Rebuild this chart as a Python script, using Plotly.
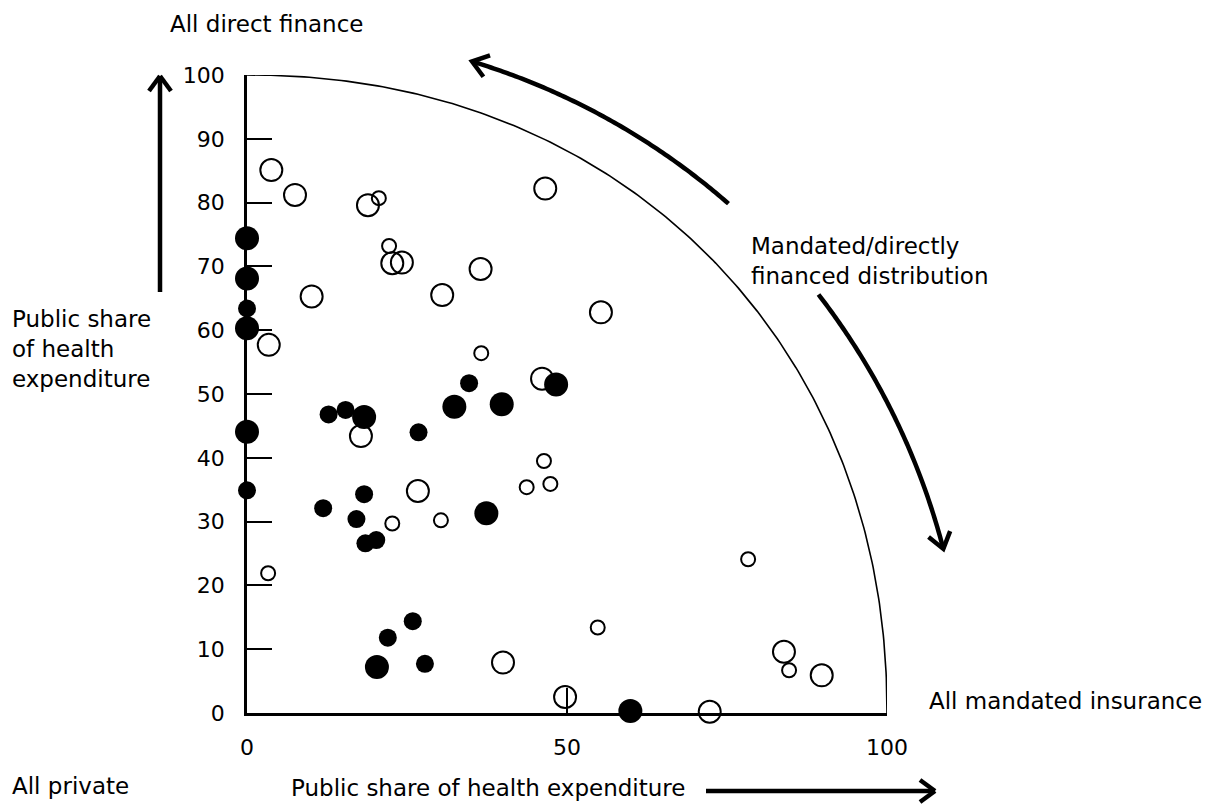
import numpy as np
import plotly.graph_objects as go

# ---------------- data ----------------
open_big_x = [3.8, 7.5, 18.9, 22.7, 24.2, 36.5, 10.1, 30.5, 46.6, 55.3, 3.4, 17.8, 46.1, 26.7, 40.0, 49.7, 72.3, 83.9, 89.8]
open_big_y = [85.1, 81.2, 79.6, 70.5, 70.6, 69.6, 65.3, 65.5, 82.2, 62.8, 57.7, 43.4, 52.4, 34.8, 7.9, 2.5, 0.2, 9.6, 5.9]

open_small_x = [20.6, 22.2, 36.6, 22.7, 30.3, 43.7, 46.4, 47.4, 3.3, 78.3, 54.8, 84.7]
open_small_y = [80.7, 73.2, 56.4, 29.7, 30.2, 35.4, 39.5, 35.9, 21.9, 24.1, 13.4, 6.7]

filled_big_x = [0, 0, 0, 0, 18.3, 32.4, 39.8, 48.3, 37.4, 20.3, 59.9]
filled_big_y = [74.4, 68.1, 60.3, 44.1, 46.4, 48.0, 48.4, 51.5, 31.3, 7.2, 0.3]

filled_small_x = [0, 0, 12.75, 15.4, 26.8, 34.7, 11.9, 18.3, 17.1, 18.5, 20.2, 22.0, 25.9, 27.8]
filled_small_y = [63.4, 34.9, 46.8, 47.5, 44.0, 51.7, 32.1, 34.3, 30.4, 26.6, 27.1, 11.8, 14.4, 7.7]

x_tickvals = [0, 50, 100]
x_ticktext = ["0", "50", "100"]
y_tickvals = [0, 10, 20, 30, 40, 50, 60, 70, 80, 90, 100]
y_ticktext = ["0", "10", "20", "30", "40", "50", "60", "70", "80", "90", "100"]

# boundary curve and curved arrows (radius / angle parameters, axis units)
boundary_radius = 100
boundary_power = 2.1
up_arrow_radii = (109.7, 108.0)     # start -> tip
up_arrow_angles = (46.7, 71.0)      # degrees, start -> tip
down_arrow_radii = (110.8, 111.8)
down_arrow_angles = (36.3, 13.3)

FONT = "DejaVu Sans"
TXT = 23

# ---------------- layout geometry ----------------
W, H = 1221, 809
L, R, T, B = 247, 334, 75, 96
PW, PH = W - L - R, H - T - B
XR = (0, 100)
YR = (0, 100)


def paper(xp, yp):
    """pixel -> paper coordinates"""
    return (xp - L) / PW, (H - B - yp) / PH


def d2p(x, y):
    """axis units -> paper coordinates"""
    return (x - XR[0]) / (XR[1] - XR[0]), (y - YR[0]) / (YR[1] - YR[0])


fig = go.Figure()
shapes = []

# boundary (quarter super-ellipse)
th = np.linspace(0, np.pi / 2, 200)
c, s = np.cos(th), np.sin(th)
bx = boundary_radius * np.abs(c) ** (2 / boundary_power)
by = boundary_radius * np.abs(s) ** (2 / boundary_power)
fig.add_trace(go.Scatter(x=bx, y=by, mode="lines", line=dict(color="black", width=1.6),
                         hoverinfo="skip", cliponaxis=False))


def path_from(points):
    return "M " + " L ".join(f"{px:.5f},{py:.5f}" for px, py in points)


def curved_arrow(radii, angles, width=4.5, head_px=19, spread=36):
    t = np.radians(np.linspace(angles[0], angles[1], 90))
    r = np.linspace(radii[0], radii[1], 90)
    x = r * np.cos(t)
    y = r * np.sin(t)
    pts = [d2p(a, b) for a, b in zip(x, y)]
    shapes.append(dict(type="path", xref="paper", yref="paper", path=path_from(pts),
                       line=dict(color="black", width=width)))
    # arrow head in pixel space
    tipx, tipy = pts[-1][0] * PW, pts[-1][1] * PH
    prvx, prvy = pts[-4][0] * PW, pts[-4][1] * PH
    dx, dy = tipx - prvx, tipy - prvy
    n = np.hypot(dx, dy)
    dx, dy = dx / n, dy / n
    arms = []
    for sgn in (1, -1):
        a = np.radians(spread * sgn)
        ux = -(dx * np.cos(a) - dy * np.sin(a))
        uy = -(dx * np.sin(a) + dy * np.cos(a))
        arms.append(((tipx + head_px * ux) / PW, (tipy + head_px * uy) / PH))
    shapes.append(dict(type="path", xref="paper", yref="paper",
                       path=path_from([arms[0], pts[-1], arms[1]]),
                       line=dict(color="black", width=width)))


curved_arrow(up_arrow_radii, up_arrow_angles)
curved_arrow(down_arrow_radii, down_arrow_angles)

# markers
fig.add_trace(go.Scatter(x=open_big_x, y=open_big_y, mode="markers", cliponaxis=False,
                         marker=dict(symbol="circle-open", size=22, color="black",
                                     line=dict(width=2, color="black"))))
fig.add_trace(go.Scatter(x=open_small_x, y=open_small_y, mode="markers", cliponaxis=False,
                         marker=dict(symbol="circle-open", size=14, color="black",
                                     line=dict(width=2, color="black"))))
fig.add_trace(go.Scatter(x=filled_big_x, y=filled_big_y, mode="markers", cliponaxis=False,
                         marker=dict(symbol="circle", size=24, color="black",
                                     line=dict(width=0))))
fig.add_trace(go.Scatter(x=filled_small_x, y=filled_small_y, mode="markers", cliponaxis=False,
                         marker=dict(symbol="circle", size=18, color="black",
                                     line=dict(width=0))))


def line_px(x0, y0, x1, y1, w=4.5):
    p0 = paper(x0, y0)
    p1 = paper(x1, y1)
    shapes.append(dict(type="line", xref="paper", yref="paper", x0=p0[0], y0=p0[1],
                       x1=p1[0], y1=p1[1], line=dict(color="black", width=w)))


# left vertical arrow
line_px(160, 292, 160, 77)
line_px(149, 91, 160, 76)
line_px(171, 91, 160, 76)
# bottom horizontal arrow
line_px(706, 791, 934, 791)
line_px(920, 780, 935, 791)
line_px(920, 802, 935, 791)

annotations = []


def text_px(x, y, txt, xanchor="left", yanchor="middle", size=TXT):
    px, py = paper(x, y)
    annotations.append(dict(x=px, y=py, xref="paper", yref="paper", text=txt, showarrow=False,
                            xanchor=xanchor, yanchor=yanchor, align="left",
                            font=dict(family=FONT, size=size, color="black")))


text_px(168, 24, "All direct finance")
text_px(10, 349, "Public share<br>of health<br>expenditure")
text_px(10, 786, "All private")
text_px(289, 788, "Public share of health expenditure")
text_px(927, 701, "All mandated insurance")
text_px(749, 261, "Mandated/directly<br>financed distribution")

fig.update_layout(
    width=W, height=H,
    margin=dict(l=L, r=R, t=T, b=B, pad=0),
    paper_bgcolor="white", plot_bgcolor="white",
    showlegend=False,
    font=dict(family=FONT, size=22, color="black"),
    shapes=shapes,
    annotations=annotations,
    xaxis=dict(range=list(XR), showline=True, linecolor="black", linewidth=2.5,
               ticks="inside", ticklen=25, tickwidth=2, tickcolor="black",
               tickvals=x_tickvals, ticktext=x_ticktext, showgrid=False, zeroline=False,
               tickfont=dict(family=FONT, size=22, color="black"), ticklabelstandoff=13),
    yaxis=dict(range=list(YR), showline=True, linecolor="black", linewidth=2.5,
               ticks="inside", ticklen=25, tickwidth=2, tickcolor="black",
               tickvals=y_tickvals, ticktext=y_ticktext, showgrid=False, zeroline=False,
               tickfont=dict(family=FONT, size=22, color="black"), ticklabelstandoff=15),
)

fig.write_html("out.html")
